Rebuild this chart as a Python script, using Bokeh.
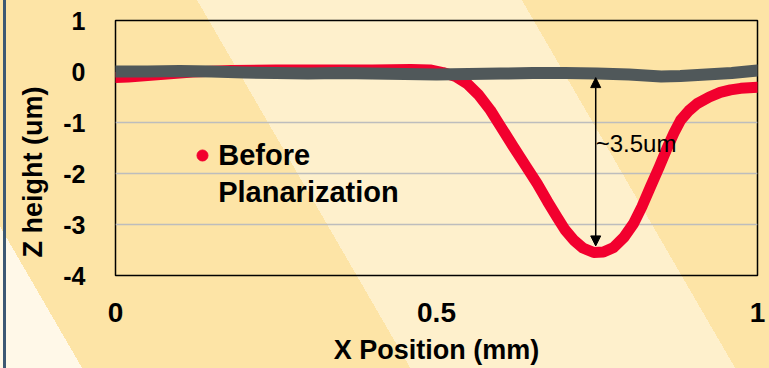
from bokeh.core.properties import value
from bokeh.embed import file_html
from bokeh.models import Arrow, FixedTicker, Label, NormalHead, Title
from bokeh.plotting import figure
from bokeh.resources import INLINE

# Surface profile before planarization (x in mm, z in um)
x_before = [0.000, 0.020, 0.050, 0.080, 0.120, 0.180, 0.250, 0.320, 0.400, 0.460,
            0.490, 0.510, 0.530, 0.548, 0.565, 0.584, 0.600, 0.620, 0.640, 0.657,
            0.673, 0.688, 0.700, 0.714, 0.728, 0.745, 0.760, 0.776, 0.792, 0.807,
            0.820, 0.833, 0.847, 0.860, 0.870, 0.880, 0.893, 0.906, 0.925, 0.942,
            0.958, 0.974, 1.000]
z_before = [-0.12, -0.11, -0.08, -0.05, -0.01, 0.02, 0.03, 0.03, 0.03, 0.04,
            0.03, -0.02, -0.10, -0.24, -0.45, -0.76, -1.08, -1.48, -1.87, -2.20,
            -2.55, -2.86, -3.10, -3.31, -3.46, -3.55, -3.54, -3.45, -3.25, -2.98,
            -2.65, -2.27, -1.87, -1.48, -1.20, -0.96, -0.77, -0.63, -0.50, -0.41,
            -0.36, -0.33, -0.31]

# Surface profile after planarization
x_after = [0.00, 0.05, 0.10, 0.15, 0.20, 0.25, 0.30, 0.35, 0.40, 0.45, 0.50,
           0.55, 0.60, 0.65, 0.70, 0.75, 0.80, 0.85, 0.88, 0.92, 0.96, 1.00]
z_after = [0.00, 0.00, 0.01, 0.00, -0.02, -0.03, -0.04, -0.03, -0.04, -0.05, -0.06,
           -0.05, -0.04, -0.03, -0.03, -0.04, -0.06, -0.10, -0.09, -0.06, -0.03, 0.02]

x_ticks = [0, 0.5, 1]
x_tick_labels = ["0", "0.5", "1"]
y_ticks = [1, 0, -1, -2, -3, -4]
y_tick_labels = ["1", "0", "-1", "-2", "-3", "-4"]
grid_levels = [-1, -2, -3]

# Step-height marker
step_x = 0.748
step_top = -0.12
step_bottom = -3.42
step_text = "~3.5um"

legend_text = ["Before", "Planarization"]

RED = "#F2002E"
GREY = "#50585A"
FONT = "Liberation Sans"

p = figure(width=769, height=368, x_range=(0, 1), y_range=(-4, 1),
           output_backend="svg", toolbar_location=None,
           min_border_left=115, min_border_right=12,
           min_border_top=20, min_border_bottom=93)

# Diagonal banded backdrop and the thin rule at the left edge
p.styles = {
    "background": (
        "linear-gradient(90deg, transparent 3px, #3D5873 3px, #3D5873 6px, transparent 6px), "
        "linear-gradient(59.9deg, #FFF8E8 0px, #FFF8E8 71px, #FDE4A6 71px, #FDE4A6 355px, "
        "#FEF0CC 355px, #FEF0CC 636px, #FDE4A6 636px)"
    )
}
p.background_fill_alpha = 0
p.border_fill_alpha = 0
p.outline_line_color = "black"
p.outline_line_width = 1.5

p.xgrid.visible = False
p.ygrid.ticker = FixedTicker(ticks=grid_levels)
p.ygrid.grid_line_color = "#BDBDBD"
p.ygrid.grid_line_width = 1.5

for ax in (p.xaxis[0], p.yaxis[0]):
    ax.axis_line_color = None
    ax.major_tick_line_color = None
    ax.minor_tick_line_color = None
    ax.major_label_text_font = FONT
    ax.major_label_text_font_style = "bold"
    ax.major_label_text_color = "black"

p.xaxis.ticker = FixedTicker(ticks=x_ticks)
p.xaxis.major_label_overrides = dict(zip(x_ticks, x_tick_labels))
p.xaxis.major_label_text_font_size = "28px"
p.xaxis.major_label_standoff = 21
p.xaxis.axis_label = "X Position (mm)"
p.xaxis.axis_label_text_font = FONT
p.xaxis.axis_label_text_font_style = "bold"
p.xaxis.axis_label_text_font_size = "27px"
p.xaxis.axis_label_text_color = "black"
p.xaxis.axis_label_standoff = 10

p.yaxis.ticker = FixedTicker(ticks=y_ticks)
p.yaxis.major_label_overrides = dict(zip(y_ticks, y_tick_labels))
p.yaxis.major_label_text_font_size = "25px"
p.yaxis.major_label_standoff = 24

# Vertical axis title, anchored toward the lower end of the frame
p.add_layout(Title(text="Z height (um)", align="left", offset=18,
                   text_font=FONT, text_font_style="bold",
                   text_font_size="27px", text_color="black", standoff=26), "left")

p.line(x_before, z_before, line_color=RED, line_width=11,
       line_join="round", line_cap="round")
p.line(x_after, z_after, line_color=GREY, line_width=12,
       line_join="round", line_cap="round")

head = dict(size=10, fill_color="black", line_color="black")
p.add_layout(Arrow(x_start=step_x, y_start=step_top, x_end=step_x, y_end=step_bottom,
                   start=NormalHead(**head), end=NormalHead(**head),
                   line_color="black", line_width=1.5))
p.add_layout(Label(x=step_x, y=-1.41, text=step_text,
                   text_align="left", text_baseline="middle",
                   text_font=FONT, text_font_size="24px", text_color="black"))

# Legend entry drawn in place
p.scatter(x=[0.1355], y=[-1.647], size=11, color=RED)
p.text(x=[0.160, 0.160], y=[-1.647, -2.353], text=legend_text,
       text_font=value(FONT), text_font_style="bold", text_font_size="29px",
       text_color="black", text_align="left", text_baseline="middle")

open("out.html", "w").write(file_html(p, INLINE))
